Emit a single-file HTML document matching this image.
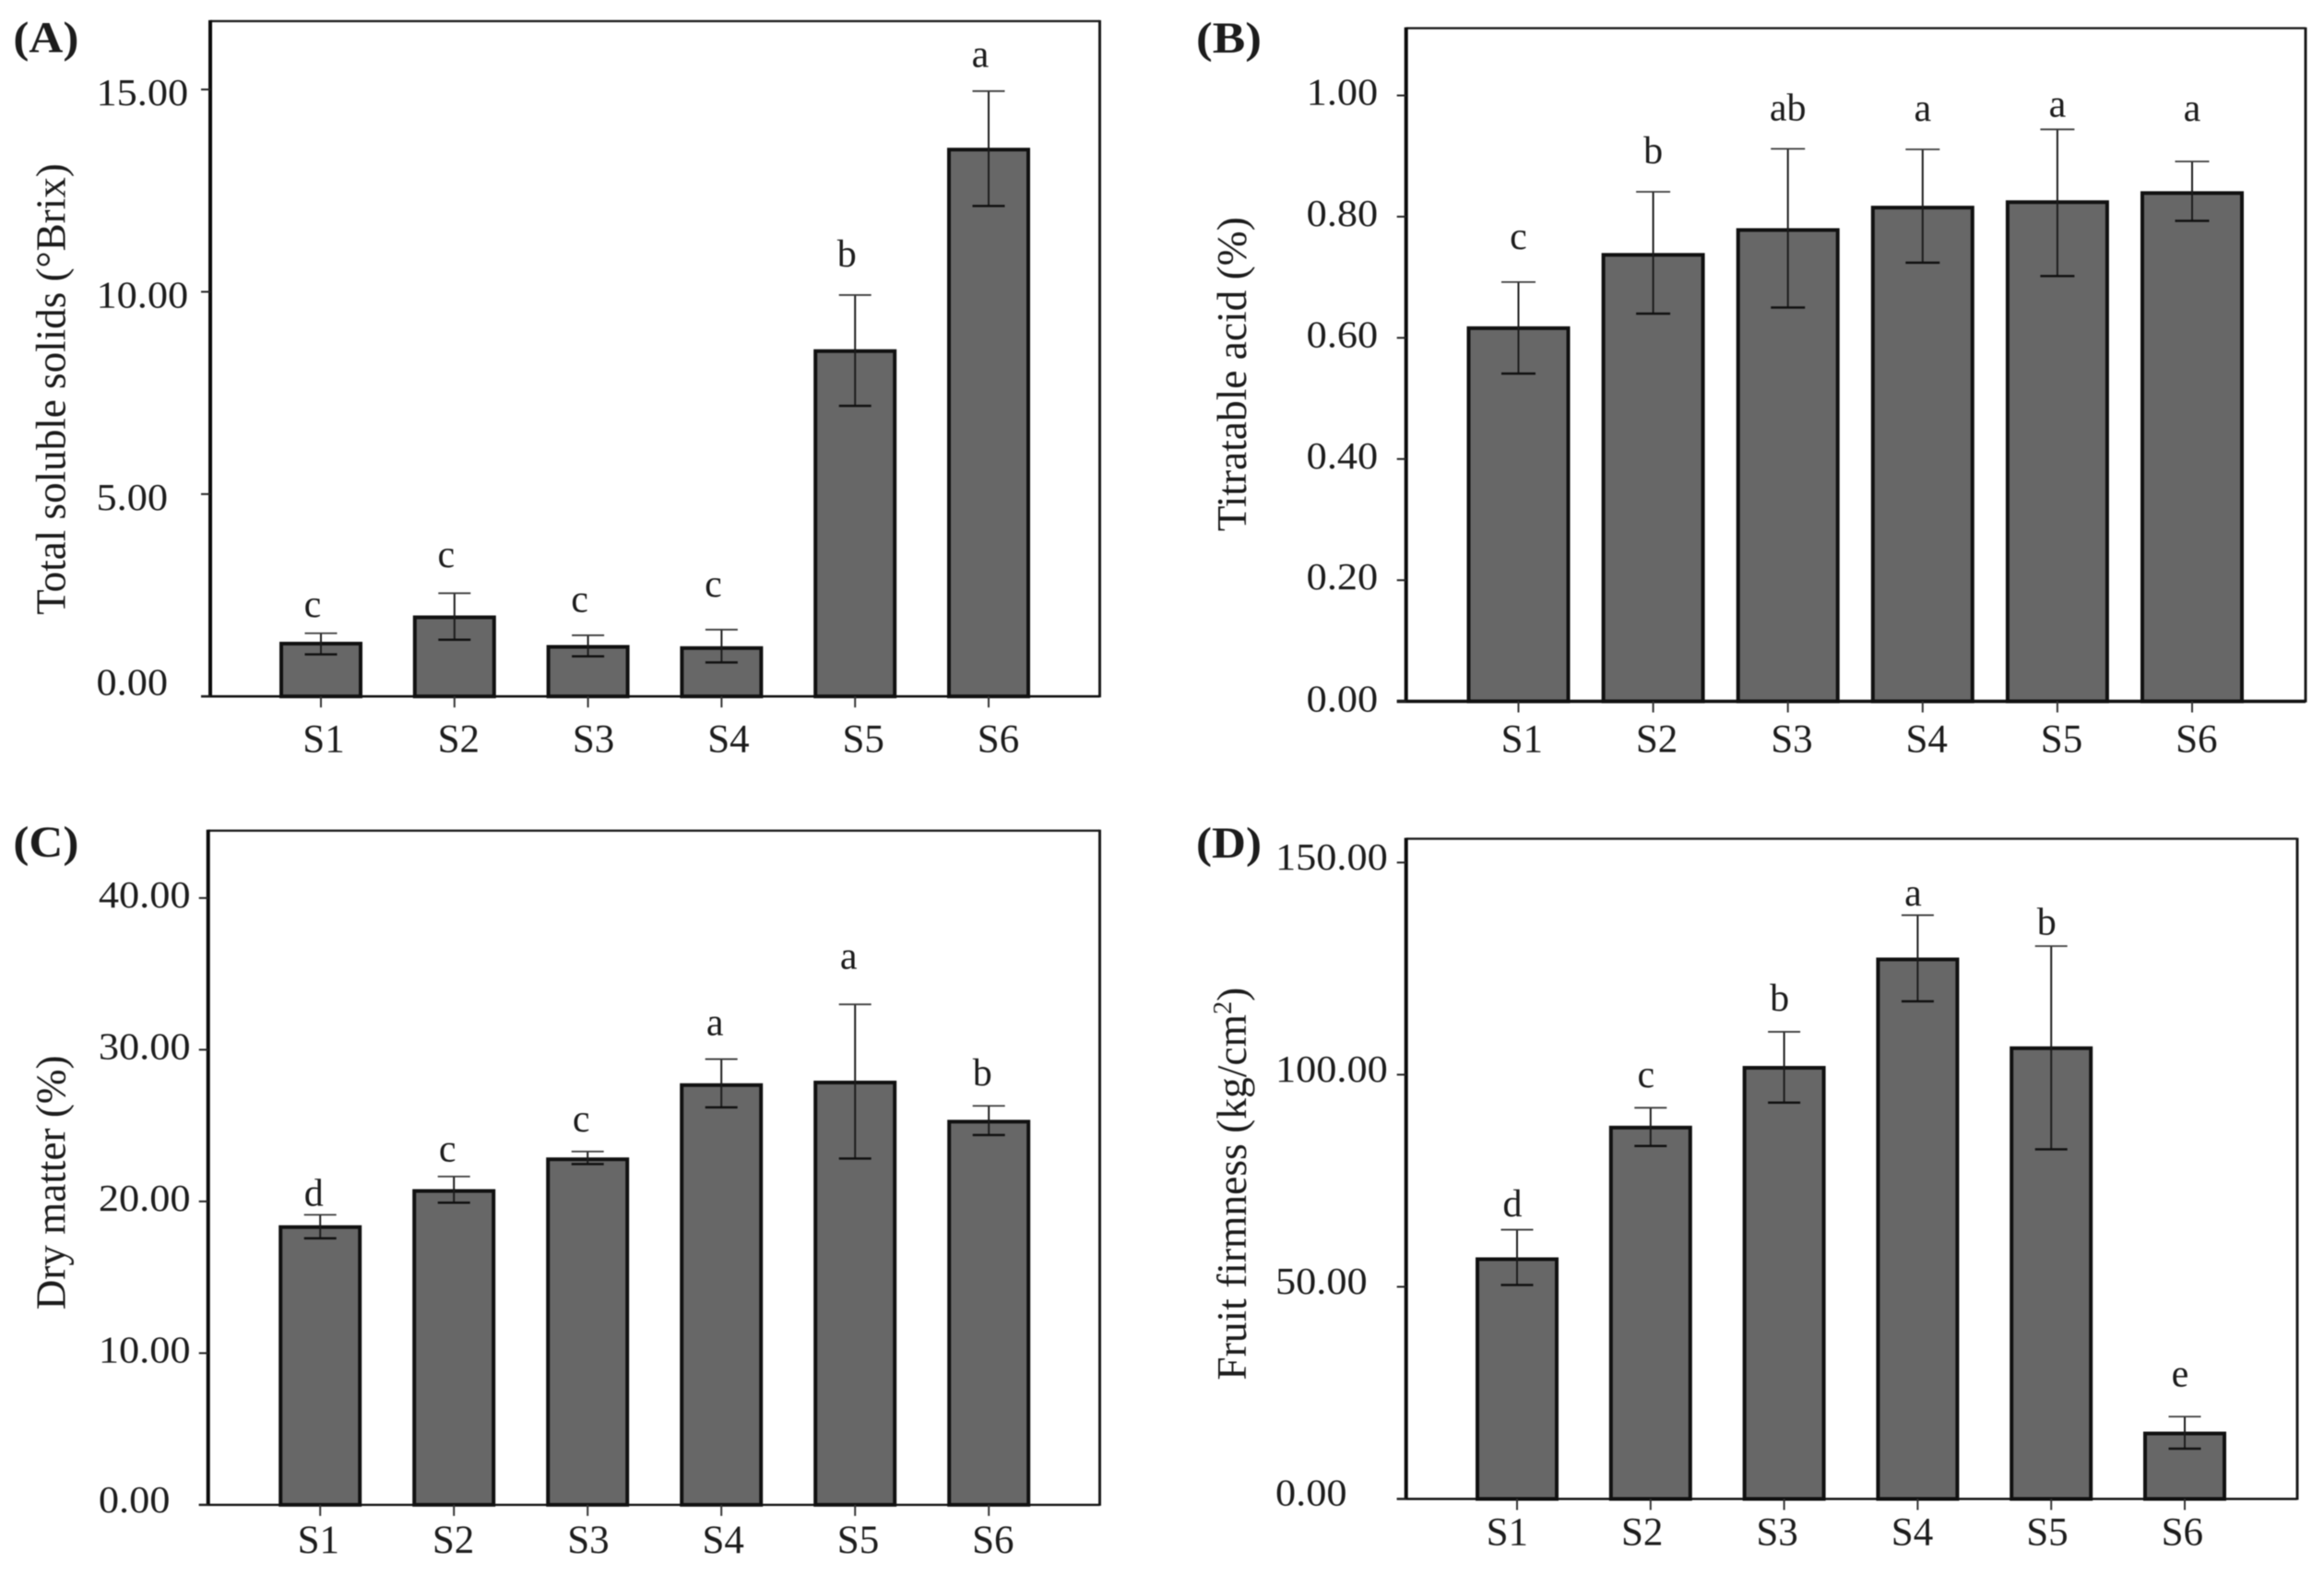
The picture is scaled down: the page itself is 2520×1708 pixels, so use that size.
<!DOCTYPE html>
<html lang="en">
<head>
<meta charset="utf-8">
<title>Fruit quality traits across stages S1 to S6</title>
<style>
  html, body { margin: 0; padding: 0; background: #fff; }
  #figure { display: block; width: 2520px; height: 1708px; filter: blur(0.6px); }
  text { font-family: "Liberation Serif", "Times New Roman", serif; fill: #1c1c1c; }
</style>
</head>
<body>
<svg id="figure" xmlns="http://www.w3.org/2000/svg" width="2520" height="1708" viewBox="0 0 2520 1708"></svg>
<script>
const categories = ["S1", "S2", "S3", "S4", "S5", "S6"];

const tickLabelsA = ["0.00", "5.00", "10.00", "15.00"];
const meansA = [1.35, 2.0, 1.27, 1.24, 8.58, 13.56];
const errUpperA = [1.56, 2.55, 1.51, 1.65, 9.92, 14.96];
const errLowerA = [1.04, 1.40, 0.99, 0.84, 7.18, 12.12];
const lettersA = ["c", "c", "c", "c", "b", "a"];
const letterLevelsA = [1.96, 3.2, 2.09, 2.47, 10.63, 15.56];

const tickLabelsB = ["0.00", "0.20", "0.40", "0.60", "0.80", "1.00"];
const meansB = [0.619, 0.74, 0.781, 0.818, 0.827, 0.842];
const errUpperB = [0.692, 0.841, 0.912, 0.911, 0.944, 0.891];
const errLowerB = [0.541, 0.64, 0.65, 0.724, 0.702, 0.793];
const lettersB = ["c", "b", "ab", "a", "a", "a"];
const letterLevelsB = [0.747, 0.888, 0.959, 0.958, 0.965, 0.958];

const tickLabelsC = ["0.00", "10.00", "20.00", "30.00", "40.00"];
const meansC = [18.43, 20.81, 22.9, 27.79, 27.96, 25.38];
const errUpperC = [19.12, 21.64, 23.29, 29.38, 32.99, 26.3];
const errLowerC = [17.57, 19.92, 22.46, 26.2, 22.83, 24.38];
const lettersC = ["d", "c", "c", "a", "a", "b"];
const letterLevelsC = [19.72, 22.63, 24.6, 30.97, 35.33, 27.66];

const tickLabelsD = ["0.00", "50.00", "100.00", "150.00"];
const meansD = [56.94, 87.96, 102.05, 127.6, 106.67, 15.86];
const errUpperD = [63.45, 92.2, 110.1, 137.6, 130.3, 19.4];
const errLowerD = [50.43, 83.2, 93.4, 117.3, 82.4, 11.84];
const lettersD = ["d", "c", "b", "a", "b", "e"];
const letterLevelsD = [66.65, 97.07, 115.07, 139.9, 133.06, 26.5];

const NS = "http://www.w3.org/2000/svg";
const root = document.getElementById("figure");

function make(tag, parent) {
  const el = document.createElementNS(NS, tag);
  parent.appendChild(el);
  return el;
}
function set(el, props) {
  for (const k in props) el.setAttribute(k, props[k]);
}

function drawPanel(p) {
  const g = make("g", root);
  
  

  const yScale = v => p.bottom - (v / p.yMax) * (p.bottom - p.top);
  const xScale = i => p.xFirst + i * p.xStep;

  // panel tag
  const tag = make("text", g);
  
  
  set(tag, { x: p.tagX, y: p.tagY, "font-size": 48, "font-weight": "bold" });
  tag.textContent = "(" + p.id + ")";
  tag.setAttribute("textLength", 71);
  tag.setAttribute("lengthAdjust", "spacingAndGlyphs");

  // y axis title
  const title = make("text", g);
  
  
  set(title, {
    x: p.titleX, y: p.titleY, "font-size": 45, "text-anchor": "middle",
    transform: "rotate(-90 " + p.titleX + " " + p.titleY + ")",
    textLength: p.titleLen, lengthAdjust: "spacingAndGlyphs", fill: "#2a2a2a"
  });
  title.appendChild(document.createTextNode(p.title));
  if (p.titleSup) {
    const sup = make("tspan", title);
    
    
    set(sup, { dy: -16, "font-size": 28 });
    sup.textContent = p.titleSup;
    const tail = make("tspan", title);
    
    
    set(tail, { dy: 16, "font-size": 45 });
    tail.textContent = p.titleTail;
  }

  // bars
  p.means.forEach((v, i) => {
    const sw = 4;
    const bar = make("rect", g);
    
    
    set(bar, {
      x: xScale(i) - p.barW / 2 + sw / 2,
      y: yScale(v) + sw / 2,
      width: p.barW - sw,
      height: Math.max(0, p.bottom - yScale(v) - sw / 2),
      fill: "#676767", stroke: "#111", "stroke-width": sw
    });
  });

  // error bars
  p.means.forEach((v, i) => {
    const cx = xScale(i);
    const stem = make("line", g);
    
    
    set(stem, { x1: cx, x2: cx, y1: yScale(p.upper[i]), y2: yScale(p.lower[i]), stroke: "#1c1c1c", "stroke-width": 2 });

    const capTop = make("line", g);
    
    
    set(capTop, { x1: cx - p.capW / 2, x2: cx + p.capW / 2, y1: yScale(p.upper[i]), y2: yScale(p.upper[i]), stroke: "#3a3a3a", "stroke-width": 1.8 });

    const capBottom = make("line", g);
    
    
    set(capBottom, { x1: cx - p.capW / 2, x2: cx + p.capW / 2, y1: yScale(p.lower[i]), y2: yScale(p.lower[i]), stroke: "#111", "stroke-width": 2.5 });
  });

  // significance letters
  p.letters.forEach((s, i) => {
    const t = make("text", g);
    
    
    set(t, { x: xScale(i) + p.letterDx, y: yScale(p.letterLevels[i]), "font-size": 42, "text-anchor": "middle" });
    t.textContent = s;
  });

  // plot frame: each side has its own weight
  const topLine = make("line", g);
  
  
  set(topLine, { x1: p.left, x2: p.right, y1: p.top, y2: p.top, stroke: "#1c1c1c", "stroke-width": 2.4 });

  const rightLine = make("line", g);
  
  
  set(rightLine, { x1: p.right, x2: p.right, y1: p.top - 1, y2: p.bottom + 1, stroke: "#1c1c1c", "stroke-width": 3 });

  const yAxis = make("line", g);
  
  
  set(yAxis, { x1: p.left, x2: p.left, y1: p.top - 1, y2: p.bottom + 1, stroke: "#0c0c0c", "stroke-width": 4 });

  const xAxis = make("line", g);
  
  
  set(xAxis, { x1: p.left - 10, x2: p.right, y1: p.bottom, y2: p.bottom, stroke: "#111", "stroke-width": p.axisW });

  // y ticks and labels
  p.tickLabels.forEach(lab => {
    const v = parseFloat(lab);
    const yy = yScale(v);
    const tick = make("line", g);
    
    
    set(tick, { x1: p.left - 10, x2: p.left, y1: yy, y2: yy, stroke: "#222", "stroke-width": 2 });

    const t = make("text", g);
    
    
    const dy = v === 0 ? p.zeroDy : p.labelDy;
    set(t, { x: p.labelX, y: yy + dy, "font-size": 41 });
    t.textContent = lab;
    t.setAttribute("textLength", t.getComputedTextLength() * 1.08);
    t.setAttribute("lengthAdjust", "spacingAndGlyphs");
  });

  // x ticks and labels
  categories.forEach((c, i) => {
    const cx = xScale(i);
    const tick = make("line", g);
    
    
    set(tick, { x1: cx, x2: cx, y1: p.bottom, y2: p.bottom + 12, stroke: "#333", "stroke-width": 2 });

    const t = make("text", g);
    
    
    set(t, { x: p.catStart + i * p.catStep, y: p.catY, "font-size": 43, "text-anchor": "middle" });
    t.textContent = c;
  });
}

drawPanel({
  id: "A", means: meansA, upper: errUpperA, lower: errLowerA, letters: lettersA, letterLevels: letterLevelsA, tickLabels: tickLabelsA,
  left: 228, right: 1192.5, top: 22.9, bottom: 755.2, yMax: 16.69,
  xFirst: 348, xStep: 144.8, barW: 90, capW: 35, letterDx: -9, axisW: 2.6,
  labelX: 104.5, labelDy: 17, zeroDy: -1.7, catStart: 351, catStep: 146.3, catY: 815.4,
  tagX: 14.4, tagY: 56.7, title: "Total soluble solids (°Brix)", titleX: 70.6, titleY: 422, titleLen: 489.5
});
drawPanel({
  id: "B", means: meansB, upper: errUpperB, lower: errLowerB, letters: lettersB, letterLevels: letterLevelsB, tickLabels: tickLabelsB,
  left: 1524.7, right: 2500, top: 30.6, bottom: 760.6, yMax: 1.111,
  xFirst: 1646.5, xStep: 146.1, barW: 112, capW: 37, letterDx: 0, axisW: 3.6,
  labelX: 1416.7, labelDy: 10, zeroDy: 11, catStart: 1650.3, catStep: 146.3, catY: 815.4,
  tagX: 1297, tagY: 57, title: "Titratable acid (%)", titleX: 1350.8, titleY: 405.8, titleLen: 341
});
drawPanel({
  id: "C", means: meansC, upper: errUpperC, lower: errLowerC, letters: lettersC, letterLevels: letterLevelsC, tickLabels: tickLabelsC,
  left: 225.7, right: 1192.5, top: 900.8, bottom: 1631.9, yMax: 44.44,
  xFirst: 347.2, xStep: 145, barW: 90, capW: 35, letterDx: -7, axisW: 2.4,
  labelX: 106.9, labelDy: 10, zeroDy: 8, catStart: 345.3, catStep: 146.3, catY: 1684,
  tagX: 14.4, tagY: 929, title: "Dry matter (%)", titleX: 70.7, titleY: 1282.4, titleLen: 276
});
drawPanel({
  id: "D", means: meansD, upper: errUpperD, lower: errLowerD, letters: lettersD, letterLevels: letterLevelsD, tickLabels: tickLabelsD,
  left: 1524.7, right: 2491, top: 909.6, bottom: 1625.5, yMax: 155.6,
  xFirst: 1645, xStep: 144.8, barW: 90, capW: 35, letterDx: -5, axisW: 2.4,
  labelX: 1383, labelDy: 7.5, zeroDy: 7, catStart: 1634.3, catStep: 146.4, catY: 1675.6,
  tagX: 1297, tagY: 930, title: "Fruit firmness (kg/cm", titleSup: "2", titleTail: ")", titleX: 1350.8, titleY: 1283.7, titleLen: 426
});
</script>
</body>
</html>
